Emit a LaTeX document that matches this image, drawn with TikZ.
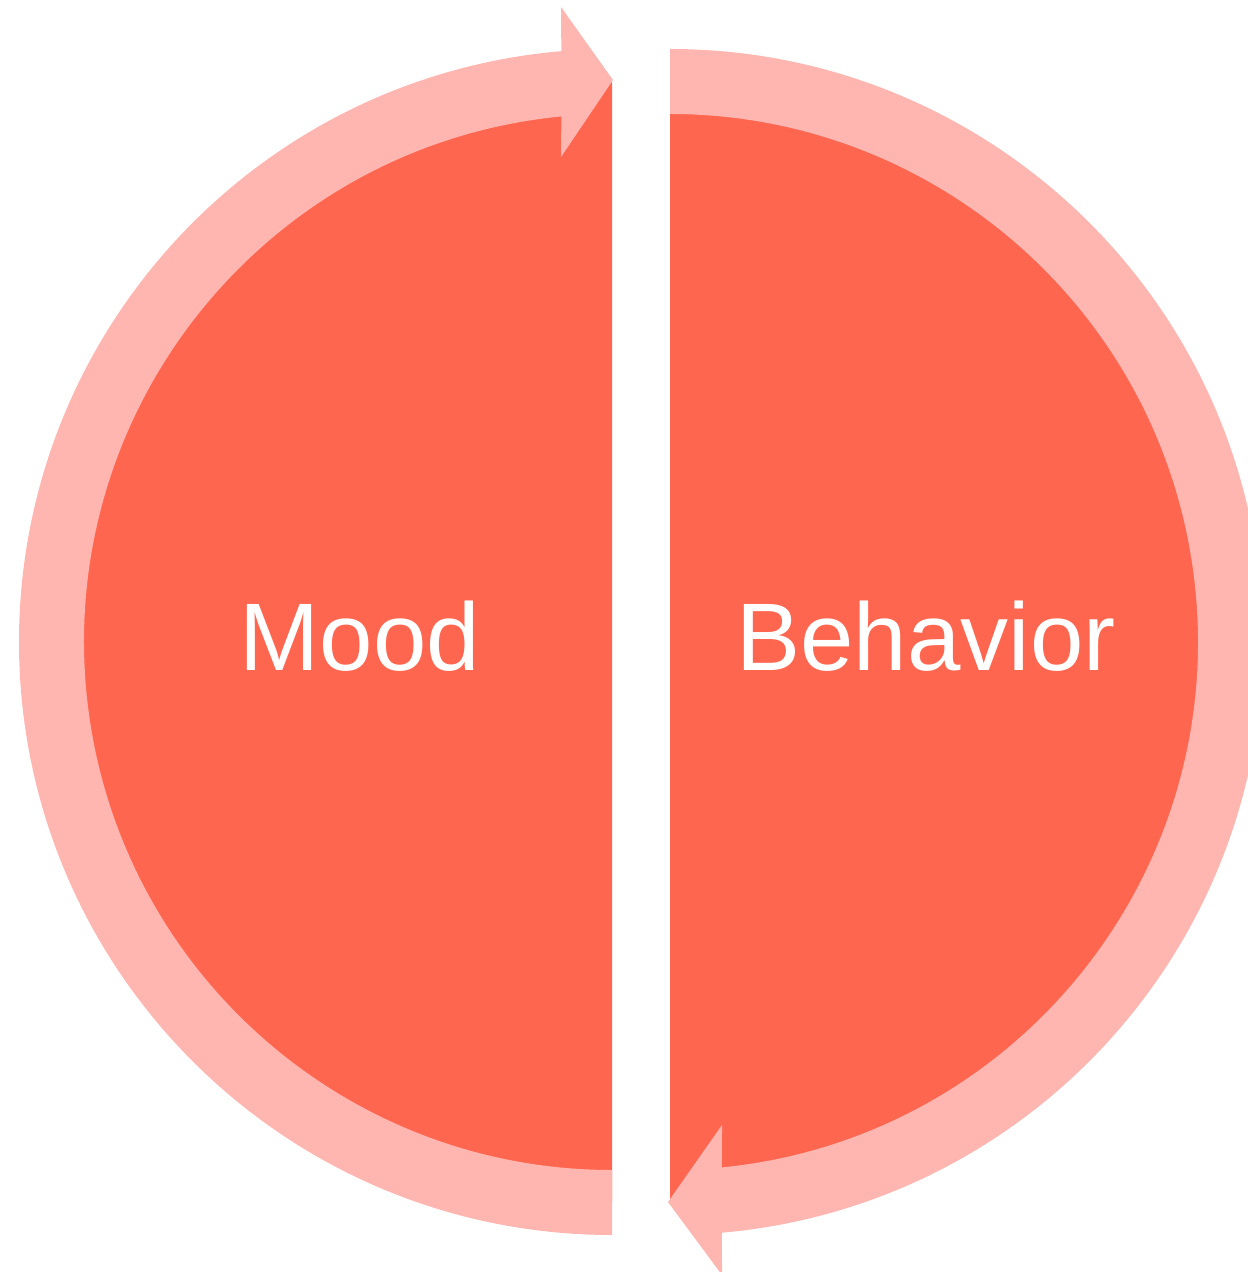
\documentclass[tikz,border=0pt]{standalone}
\usepackage{fontspec}
\setmainfont{Liberation Sans}
\usetikzlibrary{positioning, calc}

\definecolor{moodfill}{RGB}{255,102,80}
\definecolor{ringpink}{RGB}{255,182,176}

\begin{document}
\begin{tikzpicture}[x=0.01cm, y=0.01cm,
    halfdisc/.style={fill=moodfill, draw=none},
    ringarrow/.style={fill=ringpink, draw=none},
    bigtext/.style={text=white, inner sep=0pt, anchor=base,
      font=\fontsize{27.3pt}{32pt}\selectfont}]
  \useasboundingbox (0,0) rectangle (1248,1272);

  % Centres
  \coordinate (moodc) at (612,630);
  \coordinate (behavc) at (670,630);

  % Half discs
  \fill[halfdisc] ($(moodc)+(0,560)$) arc[start angle=90, end angle=270, radius=560] -- cycle;
  \fill[halfdisc] ($(behavc)+(0,560)$) arc[start angle=90, end angle=-90, radius=560] -- cycle;

  % Arrows round the halves
  \fill[ringarrow] ($(moodc)+(270:593)$) arc[start angle=270, end angle=94.9, radius=593]
    -- (561,1265) -- (613,1192) -- (561,1115)
    -- ($(moodc)+(95.5:528)$) arc[start angle=95.5, end angle=270, radius=528] -- cycle;
  \fill[ringarrow] ($(behavc)+(90:593)$) arc[start angle=90, end angle=-84.97, radius=593]
    -- (722,-3) -- (668,70) -- (722,147)
    -- ($(behavc)+(-84.35:528)$) arc[start angle=-84.35, end angle=90, radius=528] -- cycle;

  % Labels
  \node[bigtext] (mood) at (360,601) {Mood};
  \node[bigtext] (behavior) at (926,601) {Behavior};
\end{tikzpicture}
\end{document}
